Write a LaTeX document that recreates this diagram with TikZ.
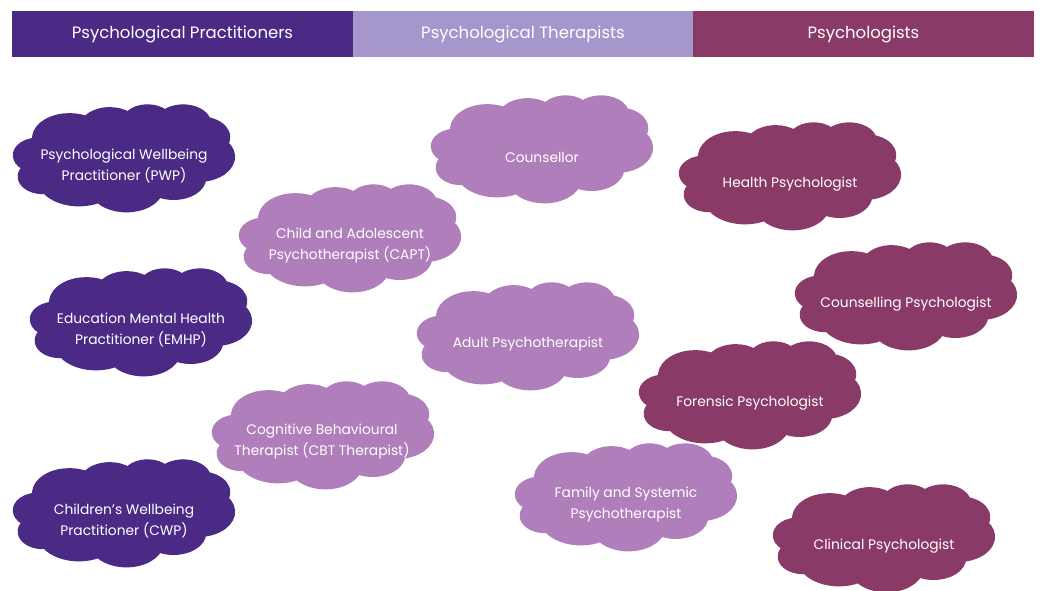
\documentclass[tikz,border=0pt]{standalone}
\usepackage{fontspec}
\setmainfont{Poppins}
\definecolor{dpur}{HTML}{4B2A86}
\definecolor{lav}{HTML}{A597CB}
\definecolor{lpur}{HTML}{B07FBB}
\definecolor{mar}{HTML}{8A3A67}
\tikzset{
  lbl/.style={text=white, align=center, font=\fontsize{13.8}{21}\selectfont},
  hdr/.style={minimum width=341pt, minimum height=46pt, inner sep=0pt, text=white,
    font=\fontsize{16.5}{19}\selectfont},
  blob/.style={fill=#1, draw=#1, line width=8pt, line join=round}
}
% cloud outline (PowerPoint-like), drawn in a 432 x 432 box, y downward
\newcommand\cloudblob[3]{%
  \begin{scope}[shift={(#1-107,#2-50)}, y=1pt, xscale=214/432, yscale=-100/432]
  \path[blob=#3] (39,143.7)
    arc[start angle=-187.74, delta angle=128.11, x radius=67.53pt, y radius=91.90pt]
    arc[start angle=-152.03, delta angle=106.57, x radius=53.33pt, y radius=72.67pt]
    arc[start angle=-153.48, delta angle=116.16, x radius=43.65pt, y radius=59.45pt]
    arc[start angle=-139.69, delta angle=129.48, x radius=48.57pt, y radius=65.95pt]
    arc[start angle=-74.77, delta angle=97.98, x radius=53.33pt, y radius=72.73pt]
    arc[start angle=-37.53, delta angle=119.39, x radius=67.75pt, y radius=92.20pt]
    arc[start angle=0.46, delta angle=121.52, x radius=57.85pt, y radius=78.67pt]
    arc[start angle=16.84, delta angle=129.40, x radius=67.52pt, y radius=92.15pt]
    arc[start angle=58.98, delta angle=91.22, x radius=77.20pt, y radius=105.43pt]
    arc[start angle=-276.69, delta angle=139.81, x radius=43.60pt, y radius=59.18pt]
    arc[start angle=-239.65, delta angle=143.76, x radius=43.45pt, y radius=59.45pt]
    -- cycle;
  \end{scope}}
\begin{document}
\begin{tikzpicture}[x=1pt,y=-1pt]
\useasboundingbox (0,0) rectangle (1041,591);
\fill[white] (0,0) rectangle (1041,591);
% header
\node[hdr, fill=dpur] (h1) at (182.5,34.5) {Psychological Practitioners};
\node[hdr, fill=lav] (h2) at (523,34.5) {Psychological Therapists};
\node[hdr, fill=mar] (h3) at (863.5,34.5) {Psychologists};
% dark clouds
\cloudblob{124}{158}{dpur}
\node[lbl] (pwp) at (124,166) {Psychological Wellbeing\\Practitioner (PWP)};
\cloudblob{141}{322}{dpur}
\node[lbl] (emhp) at (141,330) {Education Mental Health\\Practitioner (EMHP)};
\cloudblob{124}{513}{dpur}
\node[lbl] (cwp) at (124,521) {Children's Wellbeing\\Practitioner (CWP)};
% light clouds
\cloudblob{542}{149}{lpur}
\node[lbl] (couns) at (542,157) {Counsellor};
\cloudblob{350}{238}{lpur}
\node[lbl] (capt) at (350,246) {Child and Adolescent\\Psychotherapist (CAPT)};
\cloudblob{528}{336}{lpur}
\node[lbl] (adult) at (528,344) {Adult Psychotherapist};
\cloudblob{323}{435}{lpur}
\node[lbl] (cbt) at (322,442) {Cognitive Behavioural\\Therapist (CBT Therapist)};
\cloudblob{626}{497}{lpur}
\node[lbl] (fam) at (626,505) {Family and Systemic\\Psychotherapist};
% maroon clouds
\cloudblob{790}{176}{mar}
\node[lbl] (health) at (790,184) {Health Psychologist};
\cloudblob{906}{296}{mar}
\node[lbl] (cpsy) at (906,304) {Counselling Psychologist};
\cloudblob{750}{395}{mar}
\node[lbl] (foren) at (750,403) {Forensic Psychologist};
\cloudblob{884}{538}{mar}
\node[lbl] (clin) at (884,546) {Clinical Psychologist};
\end{tikzpicture}
\end{document}
